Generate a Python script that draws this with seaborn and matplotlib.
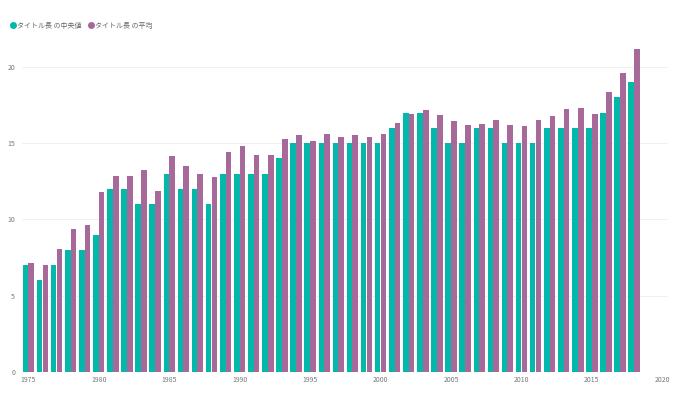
import matplotlib
matplotlib.use("Agg")
import matplotlib.pyplot as plt
import seaborn as sns
import pandas as pd
from matplotlib.lines import Line2D

years = list(range(1975, 2019))
median_vals = [7, 6, 7, 8, 8, 9, 12, 12, 11, 11, 13, 12, 12, 11, 13,
               13, 13, 13, 14, 15, 15, 15, 15, 15, 15, 15, 16, 17, 17, 16,
               15, 15, 16, 16, 15, 15, 15, 16, 16, 16, 16, 17, 18, 19]
mean_vals = [7.17, 7.02, 8.05, 9.36, 9.64, 11.82, 12.83, 12.87, 13.22, 11.87, 14.18, 13.53, 12.98, 12.81, 14.4,
             14.8, 14.2, 14.2, 15.26, 15.54, 15.17, 15.58, 15.39, 15.54, 15.39, 15.63, 16.3, 16.92, 17.2, 16.85,
             16.44, 16.2, 16.28, 16.5, 16.22, 16.15, 16.52, 16.77, 17.25, 17.3, 16.9, 18.36, 19.59, 21.2]
series_names = ["タイトル長 の中央値", "タイトル長 の平均"]
colors = ["#01B8AA", "#A66999"]
y_ticks = [0, 5, 10, 15, 20]
x_ticks = [1975, 1980, 1985, 1990, 1995, 2000, 2005, 2010, 2015, 2020]

df = pd.DataFrame({
    "year": years * 2,
    "value": median_vals + mean_vals,
    "series": [series_names[0]] * len(years) + [series_names[1]] * len(years),
})

sns.set_style("white")
plt.rcParams["font.family"] = ["Noto Sans CJK JP", "DejaVu Sans"]

fig = plt.figure(figsize=(6.8, 4.03), dpi=100)
ax = fig.add_axes([22 / 680, 1 - 372 / 403, (668 - 22) / 680, (372 - 45) / 403])

sns.barplot(data=df, x="year", y="value", hue="series", native_scale=True,
            palette=colors, width=0.82, gap=0.03, ax=ax, legend=False,
            linewidth=0, saturation=1)

ax.set_xlim(1974.55, 2020.4)
ax.set_ylim(0, 21.44)
ax.set_yticks(y_ticks)
ax.set_xticks(x_ticks)
ax.set_xlabel("")
ax.set_ylabel("")
ax.tick_params(axis="both", labelsize=5, colors="#777777", length=0)
ax.tick_params(axis="y", pad=5)
ax.tick_params(axis="x", pad=3)
ax.grid(axis="y", color="#eeeeee", linewidth=0.6)
ax.set_axisbelow(True)
for s in ax.spines.values():
    s.set_visible(False)

handles = [Line2D([0], [0], marker="o", linestyle="", markersize=4,
                  markerfacecolor=c, markeredgecolor=c) for c in colors]
fig.legend(handles, series_names, loc="upper left", bbox_to_anchor=(0.005, 0.962),
           ncol=2, frameon=False, fontsize=5, labelcolor="#666666",
           handletextpad=0.1, columnspacing=0.8, handlelength=1.0)

fig.savefig("out.png", dpi=100)
